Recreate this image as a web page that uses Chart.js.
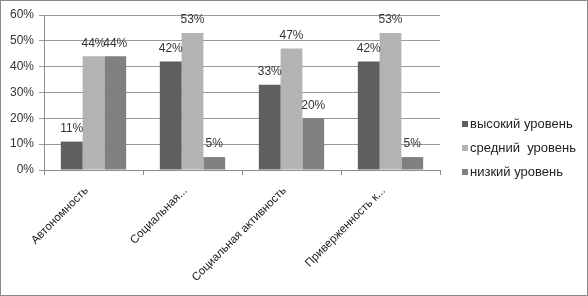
<!DOCTYPE html>
<html>
<head>
<meta charset="utf-8">
<script src="https://cdn.jsdelivr.net/npm/chart.js@4"></script>
<style>
  html, body { margin: 0; padding: 0; background: #fff; }
</style>
</head>
<body>
<canvas id="chart" width="588" height="296"></canvas>
<script>
// --- data ---
const categories = ['Автономность', 'Социальная...', 'Социальная активность', 'Приверженность к...'];
const seriesNames = ['высокий уровень', 'средний  уровень', 'низкий уровень'];
const highLevel = [11, 42, 33, 42];
const midLevel = [44, 53, 47, 53];
const lowLevel = [44, 5, 20, 5];
const yTickValues = [0, 10, 20, 30, 40, 50, 60];

const colors = ['#5f5f5f', '#b3b3b3', '#808080'];
const FONT = 'Liberation Sans';

// value labels above each bar
const valueLabels = {
    id: 'valueLabels',
    afterDatasetsDraw(chart) {
        const ctx = chart.ctx;
        ctx.save();
        ctx.font = '12px "' + FONT + '"';
        ctx.fillStyle = '#333';
        ctx.textAlign = 'center';
        ctx.textBaseline = 'bottom';
        chart.data.datasets.forEach((ds, i) => {
            chart.getDatasetMeta(i).data.forEach((bar, j) => {
                ctx.fillText(ds.data[j] + '%', bar.x, bar.y - 7);
            });
        });
        ctx.restore();
    }
};

// legend on the right + outer frame
const sideLegend = {
    id: 'sideLegend',
    afterDraw(chart) {
        const ctx = chart.ctx;
        ctx.save();
        ctx.font = '13px "' + FONT + '"';
        ctx.textBaseline = 'middle';
        ctx.textAlign = 'left';
        chart.data.datasets.forEach((ds, i) => {
            const y = 124 + i * 24;
            ctx.fillStyle = ds.backgroundColor;
            ctx.fillRect(462, y - 3, 6, 6);
            ctx.fillStyle = '#222';
            ctx.fillText(ds.label, 470, y);
        });
        ctx.strokeStyle = '#8a8a8a';
        ctx.lineWidth = 1;
        ctx.strokeRect(0.5, 0.5, 587, 295);
        ctx.restore();
    }
};

new Chart(document.getElementById('chart'), {
    type: 'bar',
    data: {
        labels: categories,
        datasets: [
            { label: seriesNames[0], data: highLevel, backgroundColor: colors[0] },
            { label: seriesNames[1], data: midLevel, backgroundColor: colors[1] },
            { label: seriesNames[2], data: lowLevel, backgroundColor: colors[2] }
        ]
    },
    options: {
        responsive: false,
        animation: false,
        devicePixelRatio: 1,
        layout: { padding: { top: 15, right: 148, left: 0, bottom: 0 } },
        datasets: { bar: { categoryPercentage: 0.66, barPercentage: 1 } },
        plugins: { legend: { display: false }, tooltip: { enabled: false } },
        scales: {
            x: {
                afterFit(scale) { scale.height = 126; },
                grid: { offset: true, drawOnChartArea: false, tickLength: 5, color: '#8c8c8c' },
                border: { color: '#8c8c8c' },
                ticks: {
                    minRotation: 45, maxRotation: 45, autoSkip: false,
                    labelOffset: -7, padding: 9,
                    color: '#1a1a1a', font: { family: FONT, size: 11.5 }
                }
            },
            y: {
                min: 0, max: 60,
                afterFit(scale) { scale.width = 44; },
                afterBuildTicks(scale) { scale.ticks = yTickValues.map(v => ({ value: v })); },
                grid: { color: '#999', tickLength: 5 },
                border: { color: '#8c8c8c' },
                ticks: {
                    padding: 5,
                    color: '#333', font: { family: FONT, size: 12 },
                    callback: v => v + '%'
                }
            }
        }
    },
    plugins: [valueLabels, sideLegend]
});
</script>
</body>
</html>
